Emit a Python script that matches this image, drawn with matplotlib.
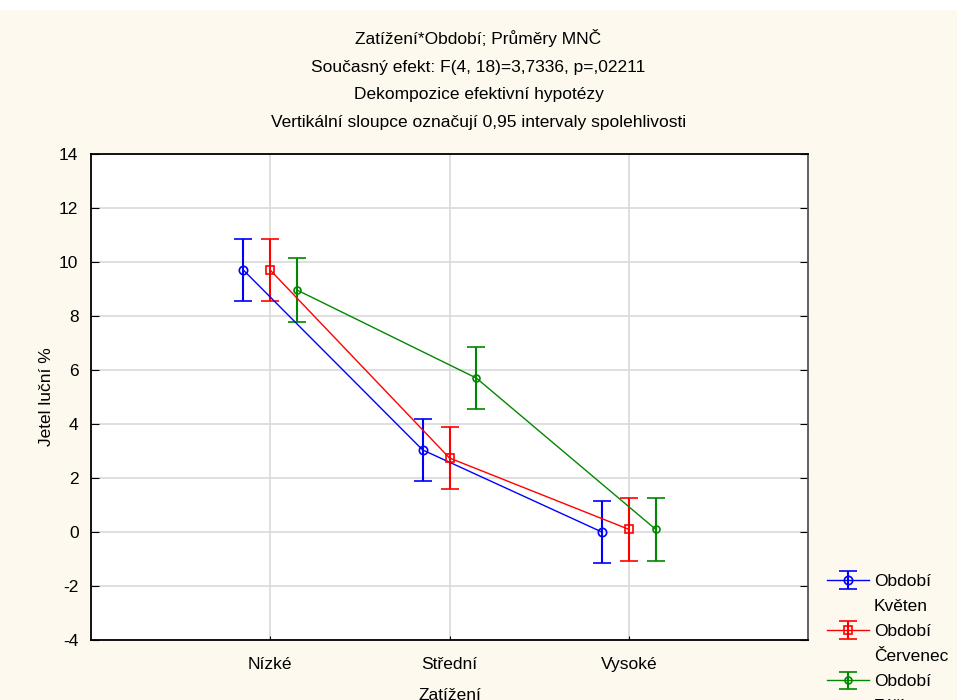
import matplotlib.pyplot as plt
from matplotlib.lines import Line2D
from matplotlib.patches import Rectangle

plt.rcParams['font.family'] = ['Liberation Sans', 'DejaVu Sans']
plt.rcParams['axes.unicode_minus'] = False

# data
kategorie = ["Nízké", "Střední", "Vysoké"]
obdobi = ["Květen", "Červenec", "Září"]
prumery_kveten = [9.70, 3.04, 0.00]
prumery_cervenec = [9.70, 2.74, 0.10]
prumery_zari = [8.96, 5.70, 0.10]
ci_kveten = [1.15, 1.15, 1.16]
ci_cervenec = [1.15, 1.15, 1.16]
ci_zari = [1.17, 1.15, 1.16]

barvy = ["#0000ff", "#ff0000", "#008800"]
znacky = ["o", "s", "o"]
posun = [-0.15, 0.0, 0.15]

bg = "#fef9ee"
fs = 12.5
fig = plt.figure(figsize=(9.57, 7.0), dpi=100, facecolor=bg)
# bily pruh nahore
fig.patches.append(Rectangle((0, 1 - 10 / 700), 1, 10 / 700, transform=fig.transFigure,
                             facecolor="white", edgecolor="none", zorder=0))

ax = fig.add_axes([91 / 957, 1 - 640 / 700, 717 / 957, 486 / 700])
ax.set_facecolor("white")

serie = [(prumery_kveten, ci_kveten), (prumery_cervenec, ci_cervenec), (prumery_zari, ci_zari)]
handles, labels = [], []
for i, (m, ci) in enumerate(serie):
    x = [k + 1 + posun[i] for k in range(len(kategorie))]
    h = ax.errorbar(x, m, yerr=ci, color=barvy[i], marker=znacky[i], markersize=6 if i < 2 else 5,
                    markerfacecolor="none", markeredgewidth=1.2, linewidth=1.0,
                    elinewidth=1.5, capsize=6.5, capthick=1.5, zorder=3)
    # legenda: "Období" s ikonou, druhy radek bez ikony
    handles += [h, Line2D([], [], linestyle="none")]
    labels += ["Období", obdobi[i]]

ax.set_xlim(0, 4)
ax.set_ylim(-4, 14)
ax.set_xticks([1, 2, 3])
ax.set_xticklabels(kategorie, fontsize=fs)
ax.set_yticks(range(-4, 15, 2))
ax.tick_params(axis="y", direction="in", length=6, labelsize=fs, right=True, pad=9)
ax.tick_params(axis="x", direction="in", length=3, labelsize=fs, pad=12)
ax.grid(True, color="#d9d9d9", linewidth=1.2, zorder=0)
for s in ax.spines.values():
    s.set_linewidth(1.3)
    s.set_color("black")
ax.spines["right"].set_color("#555555")

ax.set_ylabel("Jetel luční %", fontsize=fs, labelpad=4)
ax.set_xlabel("Zatížení", fontsize=fs, labelpad=12)

titul = ("Zatížení*Období; Průměry MNČ\n"
         "Současný efekt: F(4, 18)=3,7336, p=,02211\n"
         "Dekompozice efektivní hypotézy\n"
         "Vertikální sloupce označují 0,95 intervaly spolehlivosti")
fig.text(0.5, 1 - 29 / 700, titul, ha="center", va="top", fontsize=fs, linespacing=2.05)

fig.legend(handles, labels, loc="upper left", bbox_to_anchor=(820 / 957, 1 - 567 / 700),
           frameon=False, fontsize=fs, handlelength=2.4, labelspacing=0.57, borderaxespad=0,
           handletextpad=0.3)

fig.savefig("out.png", dpi=100, facecolor=bg)
